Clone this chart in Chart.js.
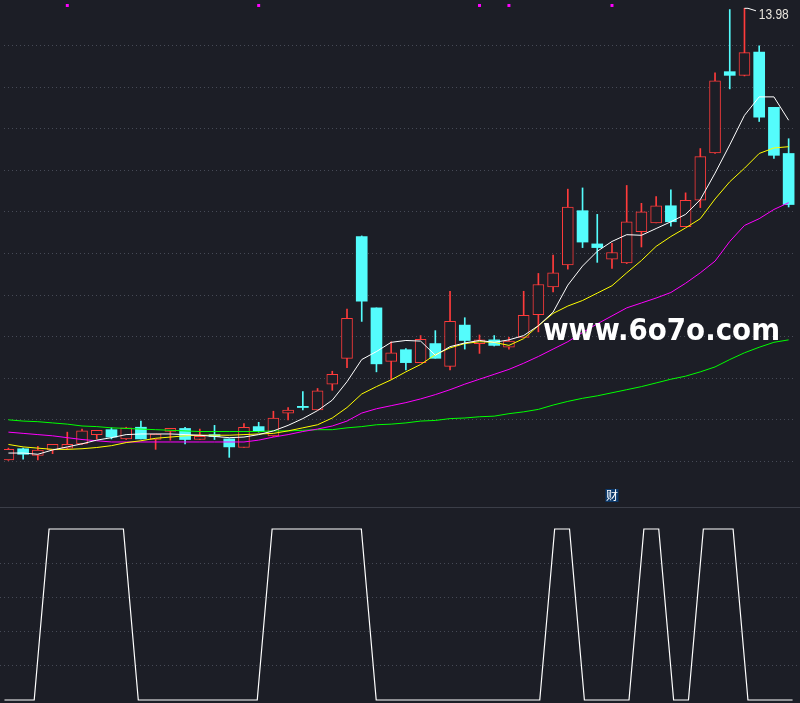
<!DOCTYPE html>
<html>
<head>
<meta charset="utf-8">
<script src="https://cdn.jsdelivr.net/npm/chart.js@4.4.0/dist/chart.umd.min.js"></script>
<style>
  html, body { margin: 0; padding: 0; background: #1c1e26; }
  #wrap { position: relative; width: 800px; height: 703px; overflow: hidden; background: #1c1e26; }
  #priceChart { position: absolute; left: 0; top: 0; }
  #divider { position: absolute; left: 0; top: 507px; width: 800px; height: 1px; background: #3b3e48; }
  #signalChart { position: absolute; left: 0; top: 508px; }
</style>
</head>
<body>
<div id="wrap">
  <canvas id="priceChart" width="800" height="507"></canvas>
  <div id="divider"></div>
  <canvas id="signalChart" width="800" height="195"></canvas>
</div>
<script>
// daily candles
const opens  = [6.64, 6.82, 6.71, 6.80, 6.83, 6.90, 7.05, 7.13, 6.98, 7.17, 6.97, 7.10, 7.15, 6.97, 7.05, 6.98, 6.84, 7.18, 7.03, 7.40,
                7.51, 7.45, 7.87, 8.29, 10.27, 9.11, 8.24, 8.43, 8.22, 8.53, 8.16, 8.83, 8.53, 8.59, 8.47, 8.63, 9.00, 9.45, 9.81, 10.69,
                10.15, 9.90, 9.84, 10.35, 10.49, 10.77, 10.43, 10.86, 11.63, 12.95, 12.89, 13.27, 12.37, 11.62];
const highs  = [6.83, 6.83, 6.86, 6.89, 7.09, 7.14, 7.12, 7.16, 7.17, 7.27, 7.06, 7.15, 7.17, 7.14, 7.20, 6.98, 7.23, 7.25, 7.43, 7.49,
                7.75, 7.80, 8.08, 9.09, 10.28, 9.11, 8.56, 8.45, 8.66, 8.74, 9.38, 8.95, 8.67, 8.66, 8.63, 9.38, 9.67, 9.97, 11.04, 11.06,
                10.63, 10.16, 11.10, 10.81, 10.92, 11.03, 10.98, 11.70, 12.93, 13.96, 13.98, 13.37, 12.37, 11.86];
const lows   = [6.63, 6.65, 6.64, 6.74, 6.81, 6.89, 6.98, 6.98, 6.97, 6.98, 6.81, 6.96, 6.90, 6.97, 6.97, 6.68, 6.84, 7.09, 7.02, 7.29,
                7.45, 7.45, 7.77, 8.14, 8.89, 8.07, 7.95, 8.10, 8.22, 8.29, 8.10, 8.44, 8.37, 8.49, 8.44, 8.63, 8.72, 9.37, 9.74, 10.09,
                9.85, 9.75, 9.83, 10.10, 10.49, 10.44, 10.43, 10.74, 11.62, 12.67, 12.88, 12.14, 11.54, 10.75];
const closes = [6.81, 6.73, 6.80, 6.89, 6.89, 7.11, 7.12, 7.01, 7.16, 6.98, 7.06, 7.15, 6.97, 7.02, 7.02, 6.85, 7.17, 7.10, 7.32, 7.45,
                7.49, 7.76, 8.03, 8.94, 9.22, 8.20, 8.38, 8.22, 8.60, 8.29, 8.89, 8.58, 8.59, 8.50, 8.57, 8.99, 9.49, 9.68, 10.75, 10.18,
                10.09, 10.01, 10.51, 10.67, 10.77, 10.51, 10.86, 11.57, 12.80, 12.89, 13.26, 12.21, 11.59, 10.79];

// moving averages as drawn
const ma5  = [6.75, 6.75, 6.73, 6.80, 6.85, 6.90, 6.96, 7.00, 7.05, 7.06, 7.06, 7.06, 7.05, 7.04, 7.02, 7.00, 7.01, 7.05, 7.11, 7.20,
              7.31, 7.44, 7.61, 7.91, 8.27, 8.40, 8.55, 8.58, 8.57, 8.34, 8.48, 8.54, 8.58, 8.55, 8.59, 8.66, 8.82, 9.04, 9.48, 9.79,
              10.03, 10.19, 10.30, 10.29, 10.40, 10.51, 10.63, 10.87, 11.30, 11.76, 12.24, 12.54, 12.54, 12.16];
const ma10 = [6.89, 6.85, 6.83, 6.81, 6.81, 6.82, 6.84, 6.87, 6.92, 6.95, 6.99, 7.01, 7.03, 7.04, 7.04, 7.04, 7.05, 7.06, 7.07, 7.11,
              7.16, 7.21, 7.32, 7.49, 7.71, 7.83, 7.94, 8.07, 8.19, 8.35, 8.46, 8.53, 8.56, 8.55, 8.50, 8.61, 8.82, 9.02, 9.14, 9.23,
              9.35, 9.47, 9.68, 9.88, 10.11, 10.27, 10.41, 10.56, 10.88, 11.16, 11.38, 11.62, 11.71, 11.73];
const ma20 = [7.09, 7.07, 7.05, 7.03, 7.00, 6.97, 6.95, 6.93, 6.93, 6.93, 6.93, 6.93, 6.93, 6.93, 6.93, 6.93, 6.93, 6.96, 7.01, 7.05,
              7.10, 7.14, 7.19, 7.27, 7.40, 7.47, 7.52, 7.57, 7.63, 7.70, 7.78, 7.87, 7.95, 8.03, 8.11, 8.21, 8.32, 8.44, 8.56, 8.71,
              8.85, 8.98, 9.11, 9.19, 9.27, 9.36, 9.51, 9.68, 9.87, 10.19, 10.45, 10.56, 10.71, 10.82];
const ma60 = [7.29, 7.27, 7.26, 7.24, 7.22, 7.19, 7.18, 7.16, 7.15, 7.14, 7.13, 7.12, 7.11, 7.10, 7.10, 7.10, 7.10, 7.10, 7.11, 7.11,
              7.12, 7.13, 7.13, 7.16, 7.18, 7.21, 7.22, 7.24, 7.27, 7.28, 7.31, 7.32, 7.34, 7.35, 7.39, 7.42, 7.46, 7.53, 7.59, 7.64,
              7.68, 7.73, 7.78, 7.83, 7.89, 7.95, 8.00, 8.07, 8.15, 8.27, 8.38, 8.47, 8.55, 8.59];

// lower panel switch signal (0/1)
const signal = [0, 0, 0, 1, 1, 1, 1, 1, 1, 0, 0, 0, 0, 0, 0, 0, 0, 0, 1, 1,
                1, 1, 1, 1, 1, 0, 0, 0, 0, 0, 0, 0, 0, 0, 0, 0, 0, 1, 1, 0,
                0, 0, 0, 1, 1, 0, 0, 1, 1, 1, 0, 0, 0, 0];

// markers along the top edge and the 财 flag
const markIdx = [4, 17, 32, 34, 41];
const caiIdx = 41;
const watermark = 'www.6o7o.com';

const BG = '#1c1e26';
const RED = '#ff3b3b';
const CYAN = '#54fcfc';
const GRID = '#464a56';
const Y_MIN = 5.938, Y_MAX = 14.05;
const X_MIN = -0.3, X_MAX = 53.5;

const idx = opens.map((_, i) => i);
const isUp = idx.map(i => closes[i] >= opens[i]);

function maLine(values, color, order) {
  return {
    type: 'line',
    data: values.map((v, i) => ({ x: i, y: v })),
    borderColor: color,
    borderWidth: 1,
    pointRadius: 0,
    tension: 0,
    order: order
  };
}

const labelPlugin = {
  id: 'priceLabels',
  afterDatasetsDraw(chart) {
    const ctx = chart.ctx;
    const xs = chart.scales.x, ys = chart.scales.y;
    ctx.save();

    // highest high tag
    const hi = Math.max(...highs);
    const hiIdx = highs.indexOf(hi);
    const hx = xs.getPixelForValue(hiIdx), hy = ys.getPixelForValue(hi);
    ctx.strokeStyle = '#ffffff';
    ctx.lineWidth = 1;
    ctx.beginPath();
    ctx.moveTo(hx, hy);
    ctx.lineTo(hx + 3.5, hy);
    ctx.lineTo(hx + 11.5, hy + 2.5);
    ctx.stroke();
    ctx.font = '14px "Liberation Sans"';
    const txt = hi.toFixed(2);
    const tw = ctx.measureText(txt).width;
    ctx.fillStyle = '#e8e4dc';
    ctx.translate(hx + 14.3, hy + 10.8);
    ctx.scale(30 / tw, 1);
    ctx.fillText(txt, 0, 0);
    ctx.setTransform(1, 0, 0, 1, 0, 0);
    ctx.restore();
    ctx.save();

    // 财 flag
    const cx = xs.getPixelForValue(caiIdx);
    const by = chart.chartArea.bottom - 14;
    ctx.fillStyle = '#0c3a6c';
    ctx.fillRect(cx - 6.5, by, 13, 13);
    ctx.fillStyle = '#ffffff';
    ctx.font = '12px "Noto Sans CJK SC"';
    ctx.textAlign = 'center';
    ctx.textBaseline = 'middle';
    ctx.fillText('财', cx, by + 6.5);
    ctx.restore();
    ctx.save();

    // watermark
    ctx.font = 'bold 30px "DejaVu Sans"';
    const ww = ctx.measureText(watermark).width;
    ctx.fillStyle = '#ffffff';
    ctx.translate(543, 340);
    ctx.scale(237 / ww, 1);
    ctx.fillText(watermark, 0, 0);
    ctx.restore();
  }
};

new Chart(document.getElementById('priceChart').getContext('2d'), {
  type: 'bar',
  data: {
    datasets: [
      maLine(ma5, '#ffffff', 0),
      maLine(ma10, '#ffff00', 1),
      maLine(ma20, '#ff00ff', 2),
      maLine(ma60, '#00ff00', 3),
      {
        type: 'line',
        data: markIdx.map(i => ({ x: i, y: Y_MAX - 0.024 })),
        showLine: false,
        pointStyle: 'rect',
        pointRadius: 2.1,
        pointBorderWidth: 0,
        pointBackgroundColor: '#ff00ff',
        order: 0
      },
      {
        data: idx.map(i => ({ x: i, y: [opens[i], closes[i]] })),
        backgroundColor: idx.map(i => isUp[i] ? BG : CYAN),
        borderColor: idx.map(i => isUp[i] ? RED : CYAN),
        borderWidth: idx.map(i => isUp[i] ? 1 : 0),
        borderSkipped: false,
        barThickness: 11,
        grouped: false,
        order: 4
      },
      {
        data: idx.map(i => ({ x: i, y: [lows[i], highs[i]] })),
        backgroundColor: idx.map(i => isUp[i] ? RED : CYAN),
        borderWidth: 0,
        barThickness: 1,
        grouped: false,
        order: 5
      }
    ]
  },
  options: {
    responsive: false,
    animation: false,
    events: [],
    layout: { padding: 0 },
    plugins: { legend: { display: false }, tooltip: { enabled: false } },
    scales: {
      x: { type: 'linear', min: X_MIN, max: X_MAX, offset: false, display: false },
      y: {
        min: Y_MIN, max: Y_MAX,
        ticks: { display: false },
        grid: { color: GRID, drawTicks: false, lineWidth: 1 },
        border: { display: false, dash: [1, 3] },
        afterFit: s => { s.width = 0; },
        afterBuildTicks: s => {
          s.ticks = Array.from({ length: 11 }, (_, k) => ({ value: Y_MAX - (Y_MAX - Y_MIN) * (k + 1) / 12 }));
        }
      }
    }
  },
  plugins: [labelPlugin]
});

new Chart(document.getElementById('signalChart').getContext('2d'), {
  type: 'line',
  data: {
    datasets: [{
      data: signal.map((v, i) => ({ x: i, y: v })),
      borderColor: '#ffffff',
      borderWidth: 1.2,
      pointRadius: 0,
      tension: 0
    }]
  },
  options: {
    responsive: false,
    animation: false,
    events: [],
    layout: { padding: 0 },
    plugins: { legend: { display: false }, tooltip: { enabled: false } },
    scales: {
      x: { type: 'linear', min: X_MIN, max: X_MAX, offset: false, display: false },
      y: {
        min: -0.0175, max: 1.1228,
        ticks: { display: false },
        grid: { color: GRID, drawTicks: false, lineWidth: 1 },
        border: { display: false, dash: [1, 3] },
        afterFit: s => { s.width = 0; },
        afterBuildTicks: s => {
          s.ticks = [0.2, 0.4, 0.6, 0.8].map(v => ({ value: v }));
        }
      }
    }
  }
});
</script>
</body>
</html>
